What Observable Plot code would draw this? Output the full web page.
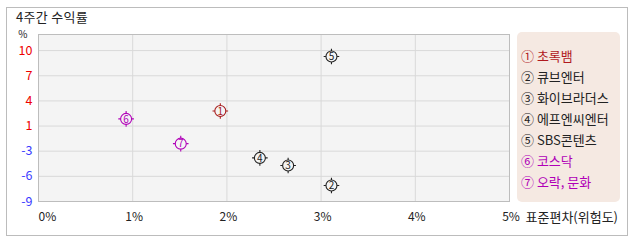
<!DOCTYPE html>
<html><head><meta charset="utf-8">
<script src="https://cdn.jsdelivr.net/npm/d3@7"></script>
<script src="https://cdn.jsdelivr.net/npm/@observablehq/plot@0.6"></script>
<style>
body{margin:0;background:#fff;font-family:"Noto Sans CJK KR","Noto Sans",sans-serif;}
#wrap{position:relative;width:638px;height:242px;overflow:hidden;}
#frame{position:absolute;left:6px;top:7px;width:622px;height:229px;border:1px solid #bcbcbc;box-sizing:border-box;}
#title{position:absolute;left:16px;top:10px;font-size:13px;color:#222;line-height:13px;letter-spacing:0.3px;}
#legend{position:absolute;left:517px;top:32px;width:103px;height:170px;background:#f5e9e2;border-radius:5px;}
.li{position:absolute;left:4px;font-size:13px;line-height:15px;white-space:nowrap;}
#chart{position:absolute;left:0;top:0;}
</style></head>
<body>
<div id="wrap">
  <div id="frame"></div>
  <div id="title"></div>
  <div id="legend"></div>
  <div id="chart"></div>
</div>
<script>
const title = "4주간 수익률";
const names = ["초록뱀","큐브엔터","화이브라더스","에프엔씨엔터","SBS콘텐츠","코스닥","오락, 문화"];
const marks = ["①","②","③","④","⑤","⑥","⑦"];
const digits = ["1","2","3","4","5","6","7"];
const riskX = [1.93, 3.11, 2.65, 2.35, 3.11, 0.93, 1.51];
const returnY = [2.8, -6.1, -3.7, -2.8, 9.3, 1.85, -1.1];
const colors = ["#a81c1c","#222222","#222222","#222222","#222222","#b000b8","#b000b8"];
const legendColors = ["#b0191e","#222222","#222222","#222222","#222222","#b000b8","#b000b8"];
const xTicks = [0,1,2,3,4,5];
const xTickLabels = ["0%","1%","2%","3%","4%","5%"];
const yTicks = [10,7,4,1,-2,-5,-8];
const yTickLabels = ["10","7","4","1","-3","-6","-9"];
const yLabelColors = ["#ee0000","#ee0000","#ee0000","#ee0000","#3c3cff","#3c3cff","#3c3cff"];
const xAxisLabel = "표준편차(위험도)";
const yAxisLabel = "%";

document.getElementById("title").textContent = title;
const leg = document.getElementById("legend");
names.forEach((n,i)=>{
  const d = document.createElement("div");
  d.className="li";
  d.style.top = (16 + i*20.95) + "px";
  d.style.color = legendColors[i];
  d.textContent = marks[i] + " " + n;
  leg.appendChild(d);
});

const pts = names.map((n,i)=>({name:n, x:riskX[i], y:returnY[i], c:colors[i], d:digits[i]}));
const yt = yTicks.map((v,i)=>({v, label:yTickLabels[i], c:yLabelColors[i]}));
const xt = xTicks.map((v,i)=>({v, label:xTickLabels[i]}));

const tickSym = {draw(ctx){const a=5.5,b=7.8;
  ctx.moveTo(0,-a);ctx.lineTo(0,-b);ctx.moveTo(0,a);ctx.lineTo(0,b);
  ctx.moveTo(-a,0);ctx.lineTo(-b,0);ctx.moveTo(a,0);ctx.lineTo(b,0);}};

const font = "'Noto Sans CJK KR','DejaVu Sans',sans-serif";
const chart = Plot.plot({
  width:638, height:242,
  marginLeft:38, marginRight:129, marginTop:34, marginBottom:41,
  style:{fontFamily:font, fontSize:"12px", background:"transparent", overflow:"visible"},
  x:{domain:[0,5], axis:null},
  y:{domain:[-8,11.92], axis:null},
  marks:[
    Plot.frame({fill:"#f4f4f4"}),
    Plot.ruleX(xTicks.filter(v=>v>0&&v<5), {stroke:"#d9d9d9"}),
    Plot.ruleY(yTicks.filter(v=>v>-8), {stroke:"#d9d9d9"}),
    Plot.frame({stroke:"#bdbdbd"}),
    Plot.text(yt, {x:0, y:"v", text:"label", fill:"c", textAnchor:"end", dx:-6, fontSize:12.5}),
    Plot.text([yAxisLabel], {x:0, y:11.92, text:d=>d, textAnchor:"end", dx:-11, dy:0, fill:"#222", fontSize:10}),
    Plot.text(xt.slice(0,1), {x:"v", y:-8, text:"label", textAnchor:"start", dy:16, fill:"#222", fontSize:12}),
    Plot.text(xt.slice(1), {x:"v", y:-8, text:"label", textAnchor:"middle", dx:1.5, dy:16, fill:"#222", fontSize:12}),
    Plot.text([xAxisLabel], {x:5, y:-8, text:d=>d, textAnchor:"start", dx:16, dy:16, fill:"#222", fontSize:13}),
    Plot.dot(pts, {x:"x", y:"y", r:5.5, stroke:"c", fill:"none", strokeWidth:1.1}),
    Plot.dot(pts, {x:"x", y:"y", r:5.5, stroke:"c", symbol:tickSym, strokeWidth:1.1}),
    Plot.text(pts, {x:"x", y:"y", text:"d", fill:"c", fontSize:10, dy:0.5})
  ]
});
document.getElementById("chart").appendChild(chart);
</script>
</body></html>
